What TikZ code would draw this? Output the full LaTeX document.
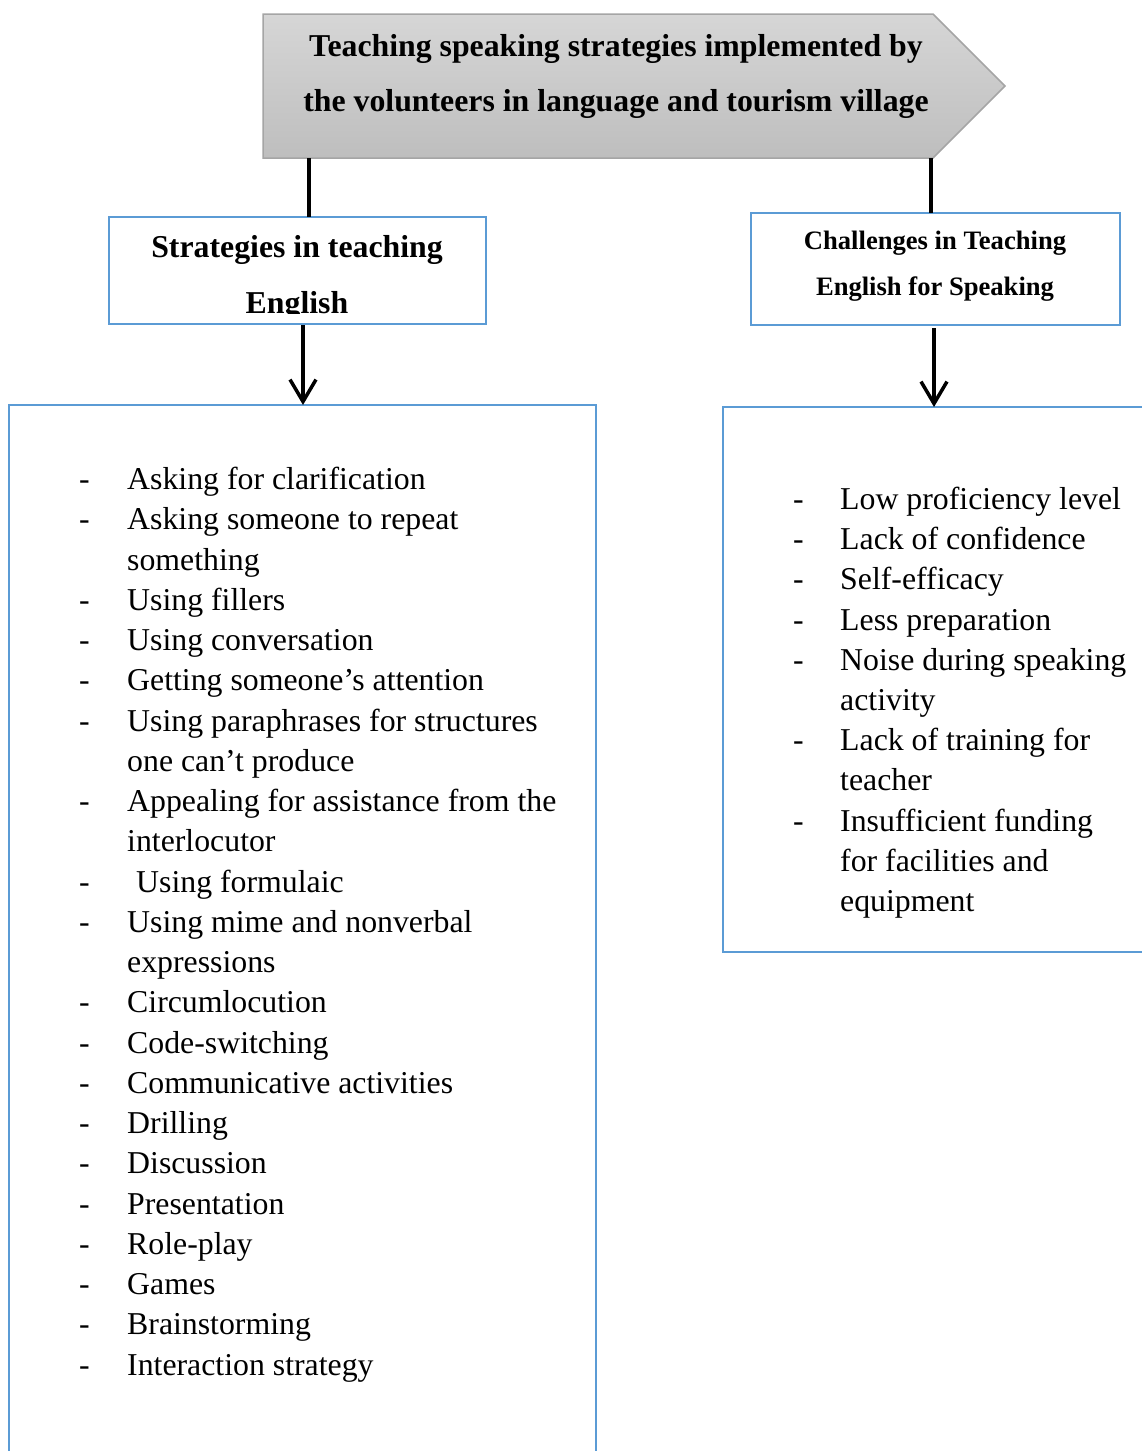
\documentclass[tikz,border=0pt]{standalone}
\usepackage{fontspec}
\setmainfont{Liberation Serif}
\usetikzlibrary{arrows.meta}
\definecolor{boxblue}{HTML}{5B9BD5}
\definecolor{titleedge}{HTML}{A5A5A5}
\definecolor{titletop}{HTML}{D6D6D6}
\definecolor{titlebot}{HTML}{BEBEBE}
\tikzset{
  bluebox/.style={draw=boxblue, line width=2.8pt},
  conn/.style={line width=3.5pt, black},
  arr/.style={conn, -{Straight Barb[length=22pt,width=26pt,line width=3.5pt]}},
  headtext/.style={font=\bfseries\fontsize{31.8}{38}\selectfont, anchor=base, inner sep=0pt},
  smallhead/.style={font=\bfseries\fontsize{26.6}{32}\selectfont, anchor=base, inner sep=0pt},
  itemtext/.style={font=\fontsize{31.8}{38}\selectfont, anchor=base west, inner sep=0pt},
}
\begin{document}
\begin{tikzpicture}[x=1pt,y=-1pt]
\useasboundingbox (0,0) rectangle (1142,1451);
\clip (0,0) rectangle (1142,1451);
% title arrow
\path[draw=titleedge, line width=1.5pt, top color=titletop, bottom color=titlebot]
  (263,14) -- (933,14) -- (1005,86) -- (933,158) -- (263,158) -- cycle;
\node[headtext] (title1) at (616,56) {Teaching speaking strategies implemented by};
\node[headtext] (title2) at (616,111) {the volunteers in language and tourism village};
\coordinate (tA) at (309,158);
\coordinate (tB) at (931,158);
% left header box
\draw[bluebox] (109,217) rectangle (486,324);
\coordinate (sTop) at (309,217);
\coordinate (sBot) at (303,325);
\begin{scope}
\clip (109,217) rectangle (486,313);
\node[headtext] (shead1) at (297,257) {Strategies in teaching};
\node[headtext] (shead2) at (297,313) {English};
\end{scope}
% right header box
\draw[bluebox] (751,213) rectangle (1120,325);
\coordinate (cTop) at (931,213);
\coordinate (cBot) at (934,328);
\node[smallhead] (chead1) at (935,249) {Challenges in Teaching};
\node[smallhead] (chead2) at (935,295) {English for Speaking};
% list boxes
\draw[bluebox] (9,405) rectangle (596,1500);
\coordinate (lTop) at (303,405);
\draw[bluebox] (723,407) rectangle (1200,952);
\coordinate (rTop) at (934,407);
% connectors
\draw[conn] (tA) -- (sTop);
\draw[conn] (tB) -- (cTop);
\draw[arr] (sBot) -- (lTop);
\draw[arr] (cBot) -- (rTop);
% left list
\foreach \i/\d/\t/\xo in {
 0/-/Asking for clarification/0,
 1/-/Asking someone to repeat/0,
 2//something/0,
 3/-/Using fillers/0,
 4/-/Using conversation/0,
 5/-/Getting someone’s attention/0,
 6/-/Using paraphrases for structures/0,
 7//one can’t produce/0,
 8/-/Appealing for assistance from the/0,
 9//interlocutor/0,
 10/-/Using formulaic/9,
 11/-/Using mime and nonverbal/0,
 12//expressions/0,
 13/-/Circumlocution/0,
 14/-/Code-switching/0,
 15/-/Communicative activities/0,
 16/-/Drilling/0,
 17/-/Discussion/0,
 18/-/Presentation/0,
 19/-/Role-play/0,
 20/-/Games/0,
 21/-/Brainstorming/0,
 22/-/Interaction strategy/0}{
  \pgfmathsetmacro{\yy}{489.5+\i*40.25}
  \node[itemtext] (ld\i) at (79,\yy) {\d};
  \node[itemtext] (lt\i) at (127+\xo,\yy) {\t};
}
% right list
\foreach \i/\d/\t in {
 0/-/Low proficiency level,
 1/-/Lack of confidence,
 2/-/Self-efficacy,
 3/-/Less preparation,
 4/-/Noise during speaking,
 5//activity,
 6/-/Lack of training for,
 7//teacher,
 8/-/Insufficient funding,
 9//for facilities and,
 10//equipment}{
  \pgfmathsetmacro{\yy}{509.5+\i*40.2}
  \node[itemtext] (rd\i) at (793,\yy) {\d};
  \node[itemtext] (rt\i) at (840,\yy) {\t};
}
\end{tikzpicture}
\end{document}
